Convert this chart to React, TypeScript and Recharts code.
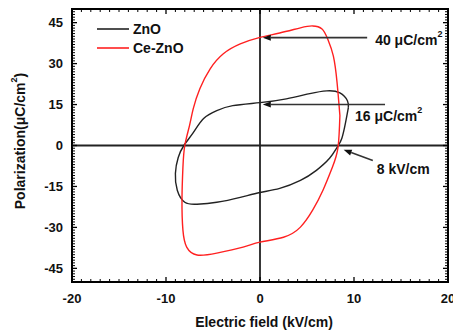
import { LineChart, Line, XAxis, YAxis, ReferenceLine, ReferenceArea, Legend } from "recharts";

const FONT = "'Liberation Sans', Arial, sans-serif";

// axis ticks
const xTicks = [-20, -10, 0, 10, 20];
const yTicks = [-45, -30, -15, 0, 15, 30, 45];
const xDomain = [-20, 20];
const yDomain = [-50, 50];
const range = (a: number, b: number) => Array.from({ length: b - a + 1 }, (_, i) => a + i);
const xMinorTicks = range(-20, 20);
const yMinorTicks = range(-50, 50);

// ZnO loop (field kV/cm, polarization uC/cm2), traced round the loop
const znoField = [9.4, 9.3, 8.5, 7.1, 5.3, 2.8, 0, -2.9, -4.6, -6.0, -7.1, -8.1, -8.7, -9.0, -8.8, -8.0, -6.7, -4.6, -2.1, 0, 2.1, 4.3, 6.0, 7.4, 8.2, 8.7, 9.1, 9.4];
const znoPol = [13.9, 16.4, 19.3, 20.0, 19.0, 17.1, 15.7, 14.6, 12.8, 9.9, 4.7, 0, -4.4, -10.2, -16.4, -20.8, -21.5, -20.8, -19.0, -17.2, -15.7, -12.8, -9.1, -4.7, -0.7, 2.6, 8.4, 13.9];

// Ce-ZnO loop
const ceField = [8.5, 8.2, 7.8, 7.2, 6.6, 5.6, 4.3, 2.1, 0, -2.1, -3.9, -5.3, -6.4, -7.1, -7.5, -8.0, -8.2, -8.3, -8.2, -7.8, -6.7, -4.6, -1.8, 0, 2.5, 4.3, 5.6, 6.7, 7.7, 8.3, 8.5];
const cePol = [11, 23, 32.8, 39, 42.7, 43.8, 43.1, 41.2, 39.6, 37.2, 33.6, 28.1, 20.8, 13.5, 7.3, 0, -8, -20, -31, -37.2, -40.1, -39.4, -37.2, -35.4, -33.6, -29.9, -23.7, -16.4, -8, -0.7, 11];

const seriesNames = ["ZnO", "Ce-ZnO"];
const seriesColors = ["#222222", "#ff2020"];

// annotation arrows: [tip, tail]
const arrow40 = [{ x: 0.3, y: 39.5 }, { x: 11.4, y: 39.5 }];
const arrow16 = [{ x: 0.3, y: 15 }, { x: 13.3, y: 15 }];
const arrow8 = [{ x: 8.9, y: -1.6 }, { x: 12.0, y: -5.5 }];

const zno = znoField.map((x, i) => ({ x, y: znoPol[i] }));
const ce = ceField.map((x, i) => ({ x, y: cePol[i] }));

// layout
const W = 453;
const H = 333;
const M = { top: 9, right: 5, left: 10, bottom: 11 };
const X_AXIS_H = 40;
const Y_AXIS_W = 62;
const PT = M.top;
const PB = H - M.bottom - X_AXIS_H;
const PL = M.left + Y_AXIS_W;
const PR = W - M.right;

const textStyle = { fontFamily: FONT, fontWeight: "bold" as const, fontSize: 14, fill: "#111" };
const tickText = { fontFamily: FONT, fontWeight: "bold" as const, fontSize: 13, fill: "#111" };

function XTick(p: any) {
  const v = p.payload.value;
  const cx = p.payload.coordinate ?? p.x;
  const major = xTicks.includes(v);
  const len = major ? 5 : 3;
  const sw = major ? 1.3 : 1;
  return (
    <g>
      <line x1={cx} x2={cx} y1={PB} y2={PB - len} stroke="#000" strokeWidth={sw} />
      <line x1={cx} x2={cx} y1={PT} y2={PT + len} stroke="#000" strokeWidth={sw} />
      {major && (
        <text x={cx} y={PB + 16} textAnchor="middle" dominantBaseline="central" {...tickText}>
          {v}
        </text>
      )}
    </g>
  );
}

function YTick(p: any) {
  const v = p.payload.value;
  const cy = p.payload.coordinate ?? p.y;
  const major = yTicks.includes(v);
  const len = major ? 5 : 3;
  const sw = major ? 1.3 : 1;
  return (
    <g>
      <line x1={PL} x2={PL + len} y1={cy} y2={cy} stroke="#000" strokeWidth={sw} />
      <line x1={PR} x2={PR - len} y1={cy} y2={cy} stroke="#000" strokeWidth={sw} />
      {major && (
        <text x={PL - 9} y={cy} textAnchor="end" dominantBaseline="central" {...tickText}>
          {v}
        </text>
      )}
    </g>
  );
}

const arrowShape = (text: any, dx: number, dy: number) => (p: any) => {
  const { x1, y1, x2, y2 } = p;
  const ang = Math.atan2(y1 - y2, x1 - x2);
  const L = 8;
  const Wd = 3;
  const bx = x1 - L * Math.cos(ang);
  const by = y1 - L * Math.sin(ang);
  const px = -Math.sin(ang) * Wd;
  const py = Math.cos(ang) * Wd;
  return (
    <g>
      <line x1={bx} y1={by} x2={x2} y2={y2} stroke="#333" strokeWidth={1.6} />
      <polygon points={`${x1},${y1} ${bx + px},${by + py} ${bx - px},${by - py}`} fill="#111" />
      <text x={x2 + dx} y={y2 + dy} dominantBaseline="central" {...textStyle}>
        {text}
      </text>
    </g>
  );
};

const uc = (v: string) => (
  <>
    {v + " \u03bcC/cm"}
    <tspan dy={-6} fontSize={9}>2</tspan>
  </>
);

function LegendBox() {
  return (
    <div style={{ fontFamily: FONT, fontWeight: "bold", fontSize: 14, color: "#111" }}>
      {seriesNames.map((n, i) => (
        <div key={n} style={{ display: "flex", alignItems: "center", height: 19 }}>
          <svg width={32} height={4}>
            <line x1={0} y1={2} x2={32} y2={2} stroke={seriesColors[i]} strokeWidth={1.6} />
          </svg>
          <span style={{ marginLeft: 4 }}>{n}</span>
        </div>
      ))}
    </div>
  );
}

export default function App() {
  return (
    <div style={{ position: "absolute", left: 0, top: 0, width: W, height: H, background: "#fff" }}>
      <LineChart width={W} height={H} margin={M}>
        <XAxis
          dataKey="x"
          type="number"
          domain={xDomain}
          ticks={xMinorTicks}
          interval={0}
          height={X_AXIS_H}
          tickLine={false}
          tick={<XTick />}
          axisLine={false}
          allowDataOverflow
          label={{
            content: (p: any) => {
              const { x, y, width } = p.viewBox;
              return (
                <text x={x + width / 2 + 4} y={y + 45} textAnchor="middle" {...textStyle}>
                  Electric field (kV/cm)
                </text>
              );
            },
          }}
        />
        <YAxis
          type="number"
          domain={yDomain}
          ticks={yMinorTicks}
          interval={0}
          width={Y_AXIS_W}
          tickLine={false}
          tick={<YTick />}
          axisLine={false}
          allowDataOverflow
          label={{
            content: () => (
              <text x={20} y={141} transform="rotate(-90 20 141)" textAnchor="middle" dominantBaseline="central" {...textStyle}>
                {"Polarization(\u03bcC/cm"}
                <tspan dy={-6} fontSize={9}>2</tspan>
                <tspan dy={6}>)</tspan>
              </text>
            ),
          }}
        />

        <ReferenceArea x1={xDomain[0]} x2={xDomain[1]} y1={yDomain[0]} y2={yDomain[1]} fill="none" fillOpacity={0} stroke="#000" strokeWidth={2} />
        <ReferenceLine x={0} stroke="#222" strokeWidth={1.8} />
        <ReferenceLine y={0} stroke="#222" strokeWidth={1.8} />

        <Line data={zno} dataKey="y" name={seriesNames[0]} type="natural" stroke={seriesColors[0]} strokeWidth={1.4} dot={false} activeDot={false} isAnimationActive={false} />
        <Line data={ce} dataKey="y" name={seriesNames[1]} type="natural" stroke={seriesColors[1]} strokeWidth={1.4} dot={false} activeDot={false} isAnimationActive={false} />

        <ReferenceLine segment={arrow40} shape={arrowShape(uc("40"), 8, 2)} />
        <ReferenceLine segment={arrow16} shape={arrowShape(uc("16"), -30, 11)} />
        <ReferenceLine segment={arrow8} shape={arrowShape("8 kV/cm", 4, 8)} />

        <Legend
          layout="vertical"
          align="center"
          verticalAlign="middle"
          content={() => <LegendBox />}
          wrapperStyle={{ left: 97, top: 19, width: "auto" }}
        />
      </LineChart>
    </div>
  );
}
